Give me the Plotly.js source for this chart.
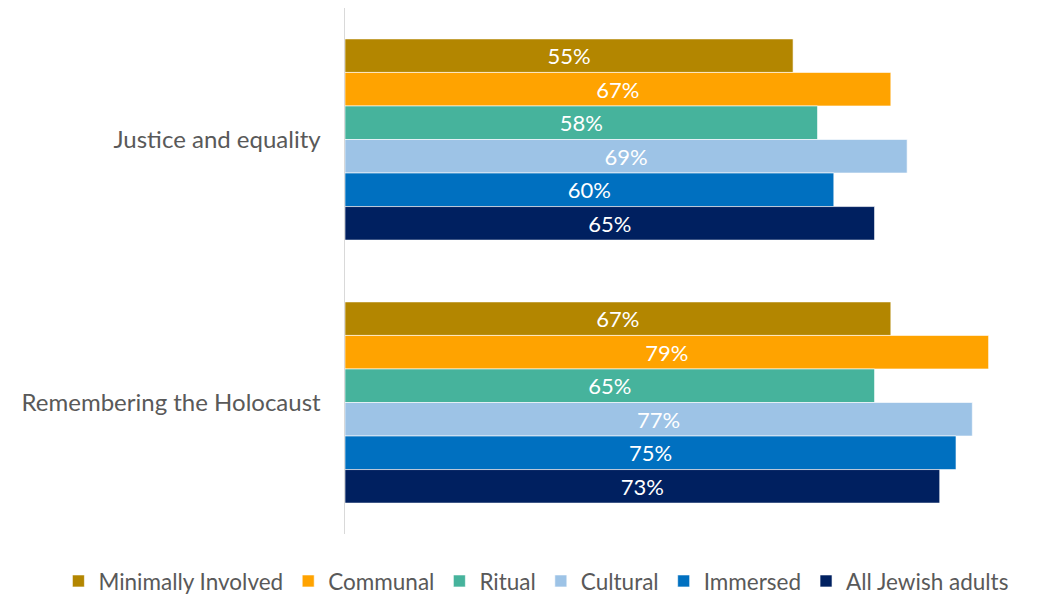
<!DOCTYPE html>
<html>
<head>
<meta charset="utf-8">
<script src="https://cdn.plot.ly/plotly-3.0.1.min.js"></script>
<style>html,body{margin:0;padding:0;background:#fff;}#chart{width:1044px;height:603px;}</style>
</head>
<body>
<div id="chart"></div>
<script>
const categories = ["Justice and equality", "Remembering the Holocaust"];
const seriesNames = ["Minimally Involved", "Communal", "Ritual", "Cultural", "Immersed", "All Jewish adults"];
const minimallyInvolved = [55, 67];
const communal = [67, 79];
const ritual = [58, 65];
const cultural = [69, 77];
const immersed = [60, 75];
const allJewishAdults = [65, 73];
const colors = ["#B38600", "#FFA300", "#46B39C", "#9DC3E6", "#0070C0", "#002060"];

const values = [minimallyInvolved, communal, ritual, cultural, immersed, allJewishAdults];
const traces = values.map((v, i) => ({
  type: "bar",
  orientation: "h",
  name: seriesNames[i],
  y: categories,
  x: v,
  text: v.map(d => d + "%"),
  textposition: "inside",
  insidetextanchor: "middle",
  textangle: 0,
  textfont: {color: "#ffffff", size: 22, family: "Lato, 'Open Sans', sans-serif"},
  marker: {color: colors[i], line: {color: "rgba(255,255,255,0.6)", width: 1}},
  hoverinfo: "skip"
}));

const layout = {
  width: 1044,
  height: 603,
  margin: {l: 345, r: 0, t: 8, b: 62},
  paper_bgcolor: "#ffffff",
  plot_bgcolor: "#ffffff",
  barmode: "group",
  bargap: 0.235,
  bargroupgap: 0,
  font: {family: "Lato, 'Open Sans', sans-serif", color: "#595959", size: 22},
  xaxis: {range: [0, 85.8], visible: false, showgrid: false, zeroline: false, fixedrange: true},
  yaxis: {
    autorange: "reversed",
    showline: true,
    linecolor: "#d9d9d9",
    linewidth: 1.5,
    showgrid: false,
    zeroline: false,
    ticks: "",
    ticklabelstandoff: 18,
    tickfont: {size: 24, color: "#595959"}
  },
  showlegend: true,
  legend: {
    orientation: "h",
    x: -0.41,
    xanchor: "left",
    y: -0.09,
    yanchor: "middle",
    font: {size: 22.5, color: "#595959"},
    itemwidth: 30,
    traceorder: "normal"
  }
};

Plotly.newPlot("chart", traces, layout, {displayModeBar: false, staticPlot: true});
</script>
</body>
</html>
